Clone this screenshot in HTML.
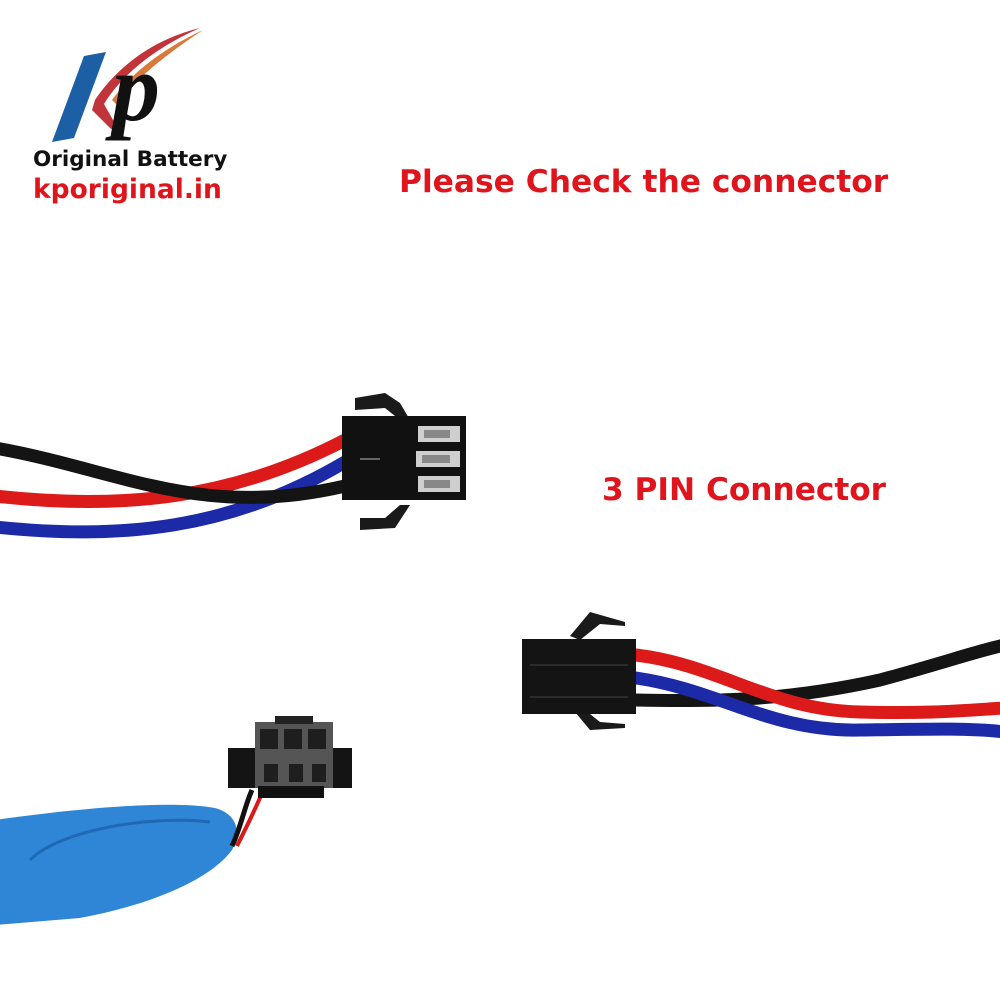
<!DOCTYPE html>
<html><head><style>body{margin:0;background:#fff}svg{display:block}</style></head><body>
<svg width="1000" height="1000" viewBox="0 0 1000 1000" xmlns="http://www.w3.org/2000/svg">
<rect width="1000" height="1000" fill="#fff"/>
<!-- logo -->
<path d="M84 56 L106 52 L74 138 L52 142 Z" fill="#1c5fa5"/>
<path d="M200 28 C150 40 115 70 95 100 L92 110 L110 128 L122 136 L104 104 C120 78 150 50 200 28 Z" fill="#c0343a"/>
<path d="M203 30 C160 50 130 75 112 100 L116 104 C135 80 165 55 203 30 Z" fill="#d97a3a"/>
<text x="112" y="120" font-family="Liberation Serif,serif" font-style="italic" font-weight="bold" font-size="96" fill="#111">p</text>
<text x="33" y="166" font-family="DejaVu Sans,sans-serif" font-weight="bold" font-size="21.5" fill="#111">Original Battery</text>
<text x="33" y="198" font-family="DejaVu Sans,sans-serif" font-weight="bold" font-size="26.5" fill="#e0141c">kporiginal.in</text>
<text x="399" y="192" font-family="DejaVu Sans,sans-serif" font-weight="bold" font-size="31.3" fill="#e0141c">Please Check the connector</text>
<text x="602" y="500" font-family="DejaVu Sans,sans-serif" font-weight="bold" font-size="31.2" fill="#e0141c">3 PIN Connector</text>
<!-- top connector wires -->
<g fill="none" stroke-linecap="round" stroke-width="13">
<path d="M-5 527 C120 540 230 530 345 462" stroke="#1d2aa8"/>
<path d="M-5 496 C120 510 230 500 345 440" stroke="#dc1a1a"/>
<path d="M-5 448 C120 470 200 520 345 486" stroke="#141414"/>
</g>
<path d="M355 398 L385 393 L400 403 L410 420 L400 420 L385 408 L355 410 Z" fill="#1a1a1a"/>
<path d="M360 518 L385 518 L400 505 L410 505 L395 528 L360 530 Z" fill="#1a1a1a"/>
<rect x="342" y="416" width="124" height="84" fill="#111"/>
<rect x="418" y="426" width="42" height="16" fill="#cfcfcf"/><rect x="416" y="451" width="44" height="16" fill="#cfcfcf"/><rect x="418" y="476" width="42" height="16" fill="#cfcfcf"/>
<rect x="424" y="430" width="26" height="8" fill="#888"/><rect x="422" y="455" width="28" height="8" fill="#888"/><rect x="424" y="480" width="26" height="8" fill="#888"/>
<line x1="360" y1="459" x2="380" y2="459" stroke="#666" stroke-width="2"/>
<!-- right connector wires -->
<g fill="none" stroke-linecap="round" stroke-width="13">
<path d="M636 700 C720 702 790 700 880 680 C940 664 980 650 1005 645" stroke="#141414"/>
<path d="M636 678 C720 690 770 732 860 730 C930 729 970 728 1005 732" stroke="#1d2aa8"/>
<path d="M636 655 C720 665 770 710 860 712 C930 714 970 710 1005 708" stroke="#dc1a1a"/>
</g>
<path d="M570 636 L590 612 L625 622 L625 626 L600 624 L580 640 Z" fill="#1a1a1a"/>
<path d="M575 712 L590 730 L625 728 L625 724 L600 722 L585 710 Z" fill="#1a1a1a"/>
<rect x="522" y="639" width="114" height="75" fill="#141414"/>
<line x1="530" y1="665" x2="628" y2="665" stroke="#333" stroke-width="1.5"/>
<line x1="530" y1="697" x2="628" y2="697" stroke="#333" stroke-width="1.5"/>
<!-- battery -->
<path d="M-5 820 C80 808 170 800 215 808 C240 815 240 835 232 850 C210 880 150 905 80 918 L-5 925 Z" fill="#2f86d6"/>
<path d="M30 860 C60 830 150 815 210 822" fill="none" stroke="#1e68b5" stroke-width="3"/>
<path d="M232 846 C240 830 245 805 252 790" stroke="#111" stroke-width="5" fill="none"/>
<path d="M237 846 C245 830 255 810 262 793" stroke="#d81a1a" stroke-width="4" fill="none"/>
<!-- bottom connector -->
<rect x="228" y="748" width="124" height="40" fill="#141414"/>
<rect x="255" y="722" width="78" height="66" fill="#555"/>
<rect x="260" y="729" width="18" height="20" fill="#1e1e1e"/><rect x="284" y="729" width="18" height="20" fill="#1e1e1e"/><rect x="308" y="729" width="18" height="20" fill="#1e1e1e"/>
<rect x="264" y="764" width="14" height="18" fill="#1e1e1e"/><rect x="289" y="764" width="14" height="18" fill="#1e1e1e"/><rect x="312" y="764" width="14" height="18" fill="#1e1e1e"/>
<rect x="258" y="786" width="66" height="12" fill="#111"/>
<rect x="275" y="716" width="38" height="8" fill="#222"/>
</svg>
</body></html>
